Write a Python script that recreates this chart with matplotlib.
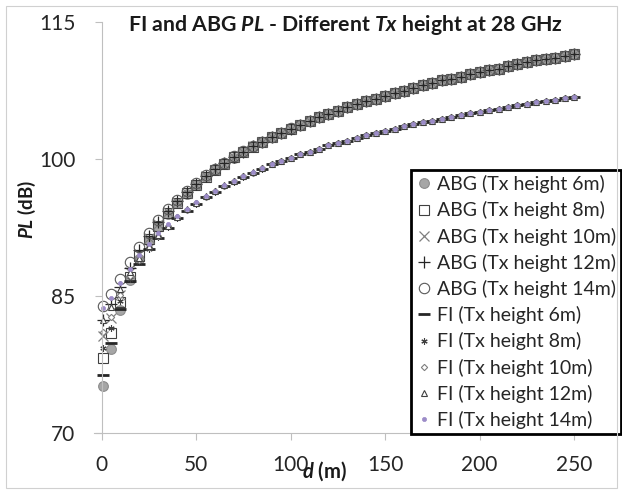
import matplotlib
matplotlib.use("Agg")
import matplotlib.pyplot as plt
from matplotlib.patches import Rectangle

plt.rcParams['font.family'] = ['Lato', 'DejaVu Sans']
plt.rcParams['mathtext.fontset'] = 'custom'
plt.rcParams['mathtext.it'] = 'Lato:italic:bold'
plt.rcParams['mathtext.rm'] = 'Lato:bold'
plt.rcParams['mathtext.bf'] = 'Lato:bold'

# distance (m)
d_m = [1, 5, 10, 15, 20, 25, 30, 35, 40, 45, 50, 55, 60, 65, 70, 75, 80, 85, 90, 95, 100,
       105, 110, 115, 120, 125, 130, 135, 140, 145, 150, 155, 160, 165, 170, 175, 180,
       185, 190, 195, 200, 205, 210, 215, 220, 225, 230, 235, 240, 245, 250]

# past 100 m the five heights overlap, read once for each model
abg_far = [103.7, 104.2, 104.6, 104.9, 105.3, 105.7, 106.0, 106.3, 106.6, 106.9,
           107.2, 107.5, 107.8, 108.1, 108.3, 108.6, 108.8, 109.0, 109.3, 109.5,
           109.7, 109.9, 110.2, 110.4, 110.6, 110.8, 110.9, 111.1, 111.3, 111.5]
fi_far = [100.5, 100.8, 101.1, 101.5, 101.8, 102.0, 102.3, 102.6, 102.8, 103.1,
          103.3, 103.6, 103.8, 104.0, 104.2, 104.4, 104.6, 104.8, 105.0, 105.2,
          105.4, 105.5, 105.7, 105.9, 106.0, 106.2, 106.4, 106.5, 106.7, 106.8]

# PL (dB), d = 1 ... 100 m
abg_6 = [75.1, 79.2, 83.5, 86.7, 89.1, 91.0, 92.6, 94.0, 95.2, 96.2, 97.1, 98.0, 98.8,
         99.5, 100.1, 100.8, 101.3, 101.9, 102.4, 102.8, 103.3] + abg_far
abg_8 = [78.2, 80.9, 84.3, 87.1, 89.4, 91.2, 92.7, 94.1, 95.2, 96.3, 97.2, 98.0, 98.8,
         99.5, 100.2, 100.8, 101.3, 101.9, 102.4, 102.9, 103.3] + abg_far
abg_10 = [80.6, 82.6, 85.1, 87.6, 89.6, 91.4, 92.9, 94.2, 95.3, 96.3, 97.2, 98.1, 98.8,
          99.5, 100.2, 100.8, 101.4, 101.9, 102.4, 102.9, 103.3] + abg_far
abg_12 = [82.4, 84.1, 86.0, 88.1, 90.0, 91.6, 93.1, 94.3, 95.4, 96.4, 97.3, 98.1, 98.9,
          99.6, 100.2, 100.8, 101.4, 101.9, 102.4, 102.9, 103.3] + abg_far
abg_14 = [83.9, 85.2, 86.9, 88.7, 90.4, 91.9, 93.3, 94.5, 95.5, 96.5, 97.4, 98.2, 98.9,
          99.6, 100.3, 100.9, 101.4, 101.9, 102.4, 102.9, 103.4] + abg_far

fi_6 = [76.3, 79.9, 83.6, 86.6, 88.5, 90.1, 91.4, 92.5, 93.5, 94.3, 95.1, 95.8, 96.4,
        97.0, 97.5, 98.0, 98.5, 98.9, 99.4, 99.8, 100.1] + fi_far
fi_8 = [79.3, 81.5, 84.5, 86.9, 88.7, 90.2, 91.5, 92.6, 93.5, 94.4, 95.1, 95.8, 96.4,
        97.0, 97.5, 98.0, 98.5, 98.9, 99.4, 99.8, 100.1] + fi_far
fi_10 = [81.1, 82.7, 85.1, 87.2, 88.9, 90.4, 91.6, 92.7, 93.6, 94.4, 95.2, 95.8, 96.5,
         97.0, 97.6, 98.1, 98.5, 99.0, 99.4, 99.8, 100.1] + fi_far
fi_12 = [82.4, 83.8, 85.8, 87.6, 89.2, 90.5, 91.7, 92.7, 93.7, 94.5, 95.2, 95.9, 96.5,
         97.1, 97.6, 98.1, 98.6, 99.0, 99.4, 99.8, 100.1] + fi_far
fi_14 = [83.7, 84.8, 86.4, 88.0, 89.5, 90.7, 91.9, 92.9, 93.8, 94.5, 95.3, 95.9, 96.5,
         97.1, 97.6, 98.1, 98.6, 99.0, 99.4, 99.8, 100.1] + fi_far

labels = ["ABG (Tx height 6m)", "ABG (Tx height 8m)", "ABG (Tx height 10m)",
          "ABG (Tx height 12m)", "ABG (Tx height 14m)", "FI (Tx height 6m)",
          "FI (Tx height 8m)", "FI (Tx height 10m)", "FI (Tx height 12m)",
          "FI (Tx height 14m)"]
series = [abg_6, abg_8, abg_10, abg_12, abg_14, fi_6, fi_8, fi_10, fi_12, fi_14]

# marker, size, face, edge, edge width
styles = [
    ("o", 7.0, "#a6a6a6", "#8c8c8c", 0.8),
    ("s", 6.5, "none", "#404040", 0.8),
    ("x", 7.0, "#7f7f7f", "#7f7f7f", 0.9),
    ("+", 8.0, "#262626", "#262626", 0.9),
    ("o", 7.5, "none", "#595959", 0.8),
    ("_", 9.0, "#262626", "#262626", 2.0),
    ((6, 2, 0), 4.5, "#404040", "#404040", 0.8),
    ("D", 3.2, "white", "#7f7f7f", 0.8),
    ("^", 4.5, "white", "#404040", 0.8),
    ("o", 3.0, "#9c8cc8", "#9c8cc8", 0.5),
]

fig = plt.figure(figsize=(6.22, 4.93), dpi=100)
fig.patches.append(Rectangle((6 / 622, 5 / 493), 611 / 622, 482 / 493,
                             transform=fig.transFigure, fill=False,
                             edgecolor="#d0d0d0", linewidth=0.8))

ax = fig.add_axes([94 / 622, 60 / 493, 518 / 622, 411 / 493])
for ys, lab, (mk, ms, fc, ec, mew) in zip(series, labels, styles):
    ax.plot(d_m, ys, linestyle="none", marker=mk, markersize=ms,
            markerfacecolor=fc, markeredgecolor=ec, markeredgewidth=mew,
            label=lab)

ax.set_xlim(-4, 270)
ax.set_ylim(70, 115)
ax.set_xticks([0, 50, 100, 150, 200, 250])
ax.set_yticks([70, 85, 100, 115])
ax.spines["top"].set_visible(False)
ax.spines["right"].set_visible(False)
ax.spines["left"].set_position(("data", 0))
for s in ("left", "bottom"):
    ax.spines[s].set_color("#bfbfbf")
    ax.spines[s].set_linewidth(0.8)
ax.tick_params(axis="both", colors="#bfbfbf", labelcolor="#262626",
               labelsize=15, length=5, width=0.8)
ax.tick_params(axis="x", pad=11)
ax.tick_params(axis="y", pad=14)

fig.text(346 / 622, 1 - 25 / 493, "FI and ABG $PL$ - Different $Tx$ height at 28 GHz",
         ha="center", va="center", fontsize=15.3, fontweight="bold", color="#1a1a1a")
fig.text(27 / 622, 1 - 209 / 493, "$PL$ (dB)", rotation=90, ha="center", va="center",
         fontsize=13.5, fontweight="bold", color="#1a1a1a")
fig.text(324 / 622, 1 - 471 / 493, "$d$ (m)", ha="center", va="center",
         fontsize=14.5, fontweight="bold", color="#1a1a1a")

leg = ax.legend(loc="lower left", bbox_to_anchor=(411 / 622, 59 / 493),
                bbox_transform=fig.transFigure, borderaxespad=0, fancybox=False,
                framealpha=1, edgecolor="black", fontsize=14, numpoints=1,
                handlelength=0.8, handletextpad=0.3, labelspacing=0.42,
                borderpad=0.25)
leg.get_frame().set_linewidth(2)
for t in leg.get_texts():
    t.set_color("#262626")

fig.savefig("out.png", dpi=100)
